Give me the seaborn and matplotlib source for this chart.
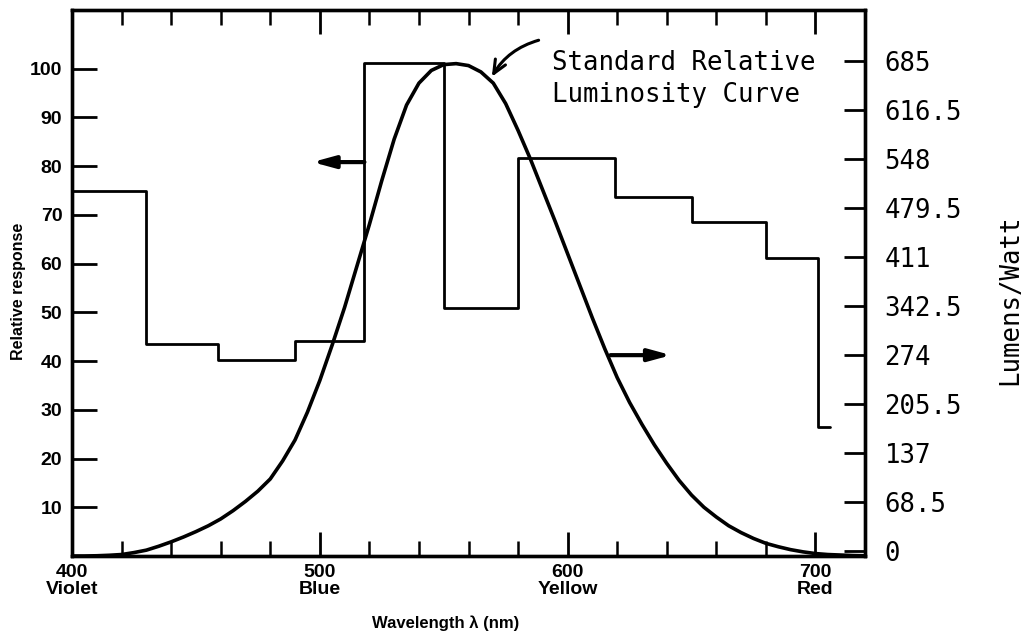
import matplotlib
matplotlib.use("Agg")
import numpy as np
import pandas as pd
import seaborn as sns
import matplotlib.pyplot as plt
from matplotlib.ticker import FixedLocator

# ---------------- data ----------------
# Standard relative luminosity curve (relative response, %)
curve_wl = [400, 405, 410, 415, 420, 425, 430, 435, 440, 445, 450, 455, 460, 465,
            470, 475, 480, 485, 490, 495, 500, 505, 510, 515, 520, 525, 530, 535,
            540, 545, 550, 555, 560, 565, 570, 575, 580, 585, 590, 595, 600, 605,
            610, 615, 620, 625, 630, 635, 640, 645, 650, 655, 660, 665, 670, 675,
            680, 685, 690, 695, 700, 705, 710, 715, 720]
curve_rel = [0.0, 0.0, 0.05, 0.15, 0.3, 0.7, 1.2, 2.0, 2.9, 3.9, 5.0, 6.2, 7.6, 9.3,
             11.2, 13.3, 15.8, 19.5, 23.8, 29.5, 36.0, 43.3, 51.0, 59.5, 68.0, 77.0, 85.5, 92.5,
             97.0, 99.6, 100.8, 101.0, 100.6, 99.3, 97.0, 92.8, 87.3, 81.4, 75.0, 68.6, 62.0, 55.4,
             48.8, 42.5, 36.6, 31.5, 27.0, 22.8, 19.0, 15.5, 12.5, 10.0, 8.0, 6.2, 4.8, 3.6,
             2.6, 1.9, 1.3, 0.85, 0.5, 0.3, 0.2, 0.1, 0.05]

# Stepped relative response (left edges of each band + final end point)
step_wl = [400, 430, 459, 490, 518, 550, 580, 619, 650, 680, 701, 706]
step_rel = [74.9, 43.5, 40.2, 44.1, 101.1, 50.9, 81.6, 73.6, 68.5, 61.2, 26.5, 26.5]

# Axis tick labels
left_ticks = [10, 20, 30, 40, 50, 60, 70, 80, 90, 100]
x_ticks = [400, 500, 600, 700]
x_tick_labels = ["400\nViolet", "500\nBlue", "600\nYellow", "700\nRed"]
x_minor_ticks = [420, 440, 460, 480, 520, 540, 560, 580, 620, 640, 660, 680, 720]
right_ticks = [0, 68.5, 137, 205.5, 274, 342.5, 411, 479.5, 548, 616.5, 685]
right_tick_labels = ["0", "68.5", "137", "205.5", "274", "342.5", "411",
                     "479.5", "548", "616.5", "685"]

# ---------------- style ----------------
sns.set_theme(style="ticks")
plt.rcParams["font.family"] = ["Liberation Sans", "DejaVu Sans"]
plt.rcParams["text.color"] = "black"
plt.rcParams["axes.labelcolor"] = "black"
plt.rcParams["xtick.color"] = "black"
plt.rcParams["ytick.color"] = "black"
MONO = ["DejaVu Sans Mono", "DejaVu Sans"]

W, H = 1033, 637
fig = plt.figure(figsize=(W / 100, H / 100), dpi=100)
fig.patch.set_facecolor("white")
L, R, B, T = 72, 865, 556, 10
ax = fig.add_axes([L / W, 1 - B / H, (R - L) / W, (B - T) / H])
ax.set_facecolor("white")

curve_df = pd.DataFrame({"wl": curve_wl, "rel": curve_rel})
step_df = pd.DataFrame({"wl": step_wl, "rel": step_rel})

sns.lineplot(data=curve_df, x="wl", y="rel", ax=ax, color="black", lw=2.6,
             sort=False, estimator=None)
sns.lineplot(data=step_df, x="wl", y="rel", ax=ax, color="black", lw=2.0,
             sort=False, estimator=None, drawstyle="steps-post")

ax.set_xlim(400, 720)
ax.set_ylim(0, 112)

ax.set_yticks(left_ticks)
ax.set_yticklabels([str(v) for v in left_ticks])
ax.set_xticks(x_ticks)
ax.set_xticklabels(x_tick_labels, linespacing=0.95)
ax.xaxis.set_minor_locator(FixedLocator(x_minor_ticks))

ax.tick_params(axis="x", which="major", direction="in", length=17, width=2,
               top=True, bottom=True, labelsize=14, pad=6, color="black",
               labelcolor="black")
ax.tick_params(axis="x", which="minor", direction="in", length=11, width=1.8,
               top=True, bottom=True, color="black")
ax.tick_params(axis="y", which="major", direction="in", length=18, width=2,
               left=True, right=False, labelsize=14, pad=7, color="black",
               labelcolor="black")
for lbl in ax.get_xticklabels() + ax.get_yticklabels():
    lbl.set_fontweight("bold")

ax.set_xlabel("Wavelength λ (nm)", fontsize=12, fontweight="bold", color="black")
ax.xaxis.set_label_coords(0.4716, -0.108)
ax.set_ylabel("Relative response", fontsize=11.5, fontweight="bold", va="center",
              color="black")
ax.yaxis.set_label_coords(-0.068, 0.485)

# right axis: lumens per watt
ax2 = ax.twinx()
ax2.set_ylim(-7, 756)
ax2.set_yticks(right_ticks)
ax2.set_yticklabels(right_tick_labels, family=MONO, fontsize=18.5, color="black")
ax2.tick_params(axis="y", direction="in", length=15, width=2, pad=14,
                color="black", right=True)
ax2.set_ylabel("Lumens/Watt", family=MONO, fontsize=18.5, va="center", rotation=90,
               color="black")
ax2.yaxis.set_label_coords(1.183, 0.469)

for a in (ax, ax2):
    for sp in a.spines.values():
        sp.set_visible(True)
        sp.set_linewidth(2.4)
        sp.set_color("black")

# annotations
ax.text(593.6, 103.8, "Standard Relative\nLuminosity Curve", family=MONO,
        fontsize=18.5, ha="left", va="top", linespacing=1.3, color="black")
ax.annotate("", xy=(569.4, 98.3), xytext=(588.3, 105.8),
            arrowprops=dict(arrowstyle="->,head_length=0.8,head_width=0.35",
                            connectionstyle="arc3,rad=0.2", lw=2.2, color="black",
                            shrinkA=0, shrinkB=0, mutation_scale=12))
ax.annotate("", xy=(497, 80.8), xytext=(518, 80.8),
            arrowprops=dict(arrowstyle="-|>,head_length=1.1,head_width=0.3",
                            lw=3, color="black", shrinkA=0, shrinkB=0,
                            mutation_scale=12))
ax.annotate("", xy=(641.8, 41.2), xytext=(617.3, 41.2),
            arrowprops=dict(arrowstyle="-|>,head_length=1.1,head_width=0.3",
                            lw=3, color="black", shrinkA=0, shrinkB=0,
                            mutation_scale=12))

fig.savefig("out.png", dpi=100, facecolor="white")
